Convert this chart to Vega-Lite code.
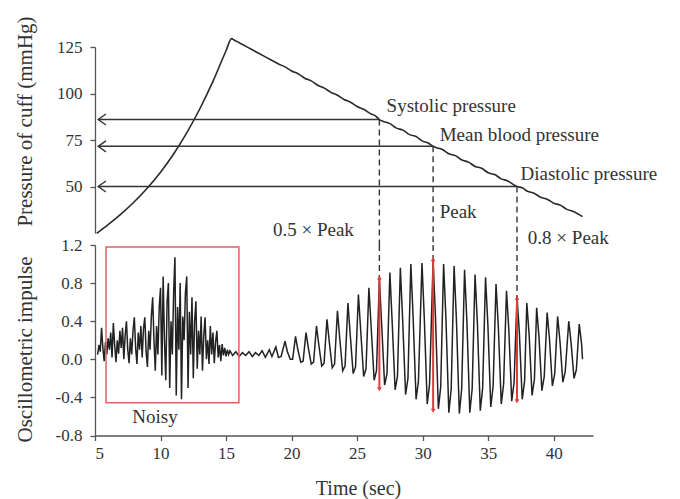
{
  "$schema": "https://vega.github.io/schema/vega-lite/v6.json",
  "background": "white",
  "padding": {"left": 14, "top": 15, "right": 5, "bottom": 2},
  "bounds": "flush",
  "spacing": 12,
  "config": {
    "font": "Liberation Serif",
    "view": {"stroke": null},
    "axis": {
      "labelFont": "Liberation Serif", "titleFont": "Liberation Serif",
      "labelFontSize": 17, "titleFontSize": 21, "titleFontWeight": "normal",
      "labelColor": "#333", "titleColor": "#333",
      "domainColor": "#555", "tickColor": "#555", "domainWidth": 1.3, "tickWidth": 1.3,
      "grid": false, "tickSize": 5, "labelPadding": 8, "labelOverlap": false, "labelBound": false
    }
  },
  "datasets": {
    "pressure": [
      {"t": 5.13, "v": 24.8}, {"t": 6, "v": 29.5}, {"t": 7, "v": 35.3}, {"t": 8, "v": 41.8},
      {"t": 9, "v": 49.2}, {"t": 10, "v": 57.7}, {"t": 11, "v": 67.5}, {"t": 12, "v": 78.8},
      {"t": 13, "v": 91.8}, {"t": 14, "v": 106.5}, {"t": 15, "v": 123.0}, {"t": 15.42, "v": 129.5},
      {"t": 15.6, "v": 128.8},
      {"t": 16, "v": 127.3}, {"t": 17, "v": 123.5}, {"t": 18, "v": 119.7}, {"t": 19, "v": 115.9},
      {"t": 19.5, "v": 114.3}, {"t": 20, "v": 112.1}, {"t": 20.5, "v": 110.6}, {"t": 21, "v": 108.2},
      {"t": 21.5, "v": 106.8}, {"t": 22, "v": 104.4}, {"t": 22.5, "v": 102.9}, {"t": 23, "v": 100.6},
      {"t": 23.5, "v": 99.1}, {"t": 24, "v": 96.8}, {"t": 24.5, "v": 95.3}, {"t": 25, "v": 93.0},
      {"t": 25.5, "v": 91.5}, {"t": 26, "v": 89.2}, {"t": 26.4, "v": 88.0}, {"t": 26.7, "v": 86.0},
      {"t": 27, "v": 85.0}, {"t": 27.5, "v": 83.8}, {"t": 28, "v": 81.4}, {"t": 28.5, "v": 80.3},
      {"t": 29, "v": 77.9}, {"t": 29.5, "v": 76.9}, {"t": 30, "v": 74.4}, {"t": 30.4, "v": 73.5},
      {"t": 30.8, "v": 71.6}, {"t": 31, "v": 71.0}, {"t": 31.5, "v": 69.9}, {"t": 32, "v": 67.6},
      {"t": 32.5, "v": 66.6}, {"t": 33, "v": 64.2}, {"t": 33.5, "v": 63.1}, {"t": 34, "v": 60.8},
      {"t": 34.5, "v": 59.8}, {"t": 35, "v": 57.4}, {"t": 35.5, "v": 56.4}, {"t": 36, "v": 54.1},
      {"t": 36.5, "v": 53.0}, {"t": 37, "v": 50.7}, {"t": 37.2, "v": 50.0}, {"t": 37.6, "v": 49.3},
      {"t": 38, "v": 47.4}, {"t": 38.5, "v": 46.4}, {"t": 39, "v": 44.2}, {"t": 39.5, "v": 43.2},
      {"t": 40, "v": 41.0}, {"t": 40.5, "v": 40.0}, {"t": 41, "v": 37.7}, {"t": 41.5, "v": 36.6},
      {"t": 42.2, "v": 33.8}
    ],
    "harrows": [
      {"t": 5.25, "t2": 26.7, "th": 5.54, "v": 86.0},
      {"t": 5.25, "t2": 30.8, "th": 5.54, "v": 71.6},
      {"t": 5.25, "t2": 37.2, "th": 5.54, "v": 50.0}
    ],
    "dtop": [
      {"t": 26.7, "v": 86.0, "v2": 18.4},
      {"t": 30.8, "v": 71.6, "v2": 18.4},
      {"t": 37.2, "v": 50.0, "v2": 18.4}
    ],
    "tlabels": [
      {"t": 27.25, "v": 90.0, "label": "Systolic pressure"},
      {"t": 31.3, "v": 74.3, "label": "Mean blood pressure"},
      {"t": 37.47, "v": 53.6, "label": "Diastolic pressure"},
      {"t": 31.3, "v": 33.3, "label": "Peak"},
      {"t": 18.58, "v": 23.5, "label": "0.5 × Peak"},
      {"t": 38.03, "v": 18.9, "label": "0.8 × Peak"}
    ],
    "signal": [
      {"t": 5.2, "v": 0.05}, {"t": 5.3, "v": 0.15}, {"t": 5.4, "v": 0.08}, {"t": 5.5, "v": 0.33},
      {"t": 5.6, "v": 0.12}, {"t": 5.7, "v": -0.02}, {"t": 5.8, "v": 0.18}, {"t": 5.9, "v": 0.05},
      {"t": 6.0, "v": 0.22}, {"t": 6.1, "v": 0.1}, {"t": 6.2, "v": 0.28}, {"t": 6.3, "v": 0.02},
      {"t": 6.4, "v": 0.38}, {"t": 6.5, "v": 0.15}, {"t": 6.6, "v": -0.03}, {"t": 6.7, "v": 0.2},
      {"t": 6.8, "v": 0.06}, {"t": 6.9, "v": 0.3}, {"t": 7.0, "v": 0.12}, {"t": 7.1, "v": 0.33},
      {"t": 7.2, "v": 0.0}, {"t": 7.3, "v": 0.25}, {"t": 7.4, "v": 0.4}, {"t": 7.5, "v": 0.1},
      {"t": 7.6, "v": -0.04}, {"t": 7.7, "v": 0.22}, {"t": 7.8, "v": 0.05}, {"t": 7.9, "v": 0.3},
      {"t": 8.0, "v": 0.44}, {"t": 8.1, "v": 0.12}, {"t": 8.2, "v": -0.05}, {"t": 8.3, "v": 0.28},
      {"t": 8.4, "v": 0.1}, {"t": 8.5, "v": 0.35}, {"t": 8.6, "v": 0.02}, {"t": 8.7, "v": 0.32},
      {"t": 8.8, "v": 0.44}, {"t": 8.9, "v": 0.08}, {"t": 9.0, "v": -0.08}, {"t": 9.1, "v": 0.3},
      {"t": 9.2, "v": 0.1}, {"t": 9.3, "v": 0.45}, {"t": 9.4, "v": 0.65}, {"t": 9.5, "v": 0.2},
      {"t": 9.6, "v": -0.12}, {"t": 9.7, "v": 0.35}, {"t": 9.8, "v": 0.05}, {"t": 9.9, "v": 0.55},
      {"t": 10.0, "v": 0.75}, {"t": 10.1, "v": -0.17}, {"t": 10.2, "v": 0.87}, {"t": 10.3, "v": 0.2},
      {"t": 10.4, "v": -0.22}, {"t": 10.5, "v": 0.6}, {"t": 10.6, "v": 0.8}, {"t": 10.7, "v": -0.3},
      {"t": 10.8, "v": 0.4}, {"t": 10.9, "v": 0.05}, {"t": 11.0, "v": 0.7}, {"t": 11.1, "v": 1.07},
      {"t": 11.2, "v": -0.38}, {"t": 11.3, "v": 0.55}, {"t": 11.4, "v": 0.1}, {"t": 11.5, "v": 0.8},
      {"t": 11.6, "v": -0.42}, {"t": 11.7, "v": 0.45}, {"t": 11.8, "v": 0.2}, {"t": 11.9, "v": 0.7},
      {"t": 12.0, "v": 0.87}, {"t": 12.1, "v": -0.3}, {"t": 12.2, "v": 0.5}, {"t": 12.3, "v": 0.05},
      {"t": 12.4, "v": 0.65}, {"t": 12.5, "v": -0.2}, {"t": 12.6, "v": 0.4}, {"t": 12.7, "v": 0.61},
      {"t": 12.8, "v": -0.1}, {"t": 12.9, "v": 0.3}, {"t": 13.0, "v": 0.05}, {"t": 13.1, "v": 0.45},
      {"t": 13.2, "v": -0.12}, {"t": 13.3, "v": 0.25}, {"t": 13.4, "v": 0.44}, {"t": 13.5, "v": 0.0},
      {"t": 13.6, "v": 0.2}, {"t": 13.7, "v": -0.05}, {"t": 13.8, "v": 0.35}, {"t": 13.9, "v": 0.05},
      {"t": 14.0, "v": 0.28}, {"t": 14.1, "v": -0.04}, {"t": 14.2, "v": 0.18}, {"t": 14.3, "v": 0.3},
      {"t": 14.4, "v": 0.02}, {"t": 14.5, "v": 0.15}, {"t": 14.6, "v": -0.02}, {"t": 14.7, "v": 0.16},
      {"t": 14.8, "v": 0.04}, {"t": 14.9, "v": 0.12}, {"t": 15.0, "v": 0.03}, {"t": 15.1, "v": 0.1},
      {"t": 15.2, "v": 0.05}, {"t": 15.3, "v": 0.09}, {"t": 15.5, "v": 0.04}, {"t": 15.75, "v": 0.08},
      {"t": 16.0, "v": 0.03}, {"t": 16.25, "v": 0.07}, {"t": 16.5, "v": 0.04}, {"t": 16.75, "v": 0.08},
      {"t": 17.0, "v": 0.03}, {"t": 17.25, "v": 0.07}, {"t": 17.5, "v": 0.04}, {"t": 17.75, "v": 0.09},
      {"t": 18.0, "v": 0.02}, {"t": 18.3, "v": 0.1}, {"t": 18.5, "v": 0.03}, {"t": 18.8, "v": 0.13},
      {"t": 19.0, "v": 0.02}, {"t": 19.2, "v": 0.03},
      {"t": 19.5, "v": 0.19}, {"t": 19.68, "v": 0.08}, {"t": 19.9, "v": 0.0}, {"t": 20.08, "v": 0.0},
      {"t": 20.3, "v": 0.24}, {"t": 20.48, "v": 0.10}, {"t": 20.7, "v": -0.03}, {"t": 20.88, "v": -0.02},
      {"t": 21.1, "v": 0.28}, {"t": 21.28, "v": 0.12}, {"t": 21.5, "v": -0.05}, {"t": 21.68, "v": -0.03},
      {"t": 21.9, "v": 0.35}, {"t": 22.08, "v": 0.15}, {"t": 22.3, "v": -0.07}, {"t": 22.48, "v": -0.04},
      {"t": 22.7, "v": 0.42}, {"t": 22.88, "v": 0.18}, {"t": 23.1, "v": -0.09}, {"t": 23.28, "v": -0.05},
      {"t": 23.5, "v": 0.51}, {"t": 23.68, "v": 0.21}, {"t": 23.9, "v": -0.12}, {"t": 24.08, "v": -0.07},
      {"t": 24.3, "v": 0.59}, {"t": 24.48, "v": 0.25}, {"t": 24.7, "v": -0.15}, {"t": 24.88, "v": -0.08},
      {"t": 25.1, "v": 0.68}, {"t": 25.28, "v": 0.29}, {"t": 25.5, "v": -0.18}, {"t": 25.68, "v": -0.10},
      {"t": 25.9, "v": 0.75}, {"t": 26.08, "v": 0.32}, {"t": 26.3, "v": -0.22}, {"t": 26.48, "v": -0.12},
      {"t": 26.7, "v": 0.84}, {"t": 26.88, "v": 0.35}, {"t": 27.1, "v": -0.27}, {"t": 27.28, "v": -0.15},
      {"t": 27.5, "v": 0.91}, {"t": 27.68, "v": 0.38}, {"t": 27.9, "v": -0.32}, {"t": 28.08, "v": -0.18},
      {"t": 28.3, "v": 0.96}, {"t": 28.48, "v": 0.40}, {"t": 28.7, "v": -0.37}, {"t": 28.88, "v": -0.20},
      {"t": 29.1, "v": 1.0}, {"t": 29.28, "v": 0.42}, {"t": 29.5, "v": -0.42}, {"t": 29.68, "v": -0.23},
      {"t": 29.95, "v": 1.01}, {"t": 30.13, "v": 0.42}, {"t": 30.35, "v": -0.47}, {"t": 30.53, "v": -0.26},
      {"t": 30.8, "v": 1.04}, {"t": 30.98, "v": 0.44}, {"t": 31.2, "v": -0.52}, {"t": 31.38, "v": -0.29},
      {"t": 31.6, "v": 1.0}, {"t": 31.78, "v": 0.42}, {"t": 32.0, "v": -0.56}, {"t": 32.18, "v": -0.31},
      {"t": 32.4, "v": 0.98}, {"t": 32.58, "v": 0.41}, {"t": 32.8, "v": -0.57}, {"t": 32.98, "v": -0.31},
      {"t": 33.2, "v": 0.94}, {"t": 33.38, "v": 0.39}, {"t": 33.6, "v": -0.56}, {"t": 33.78, "v": -0.31},
      {"t": 34.0, "v": 0.89}, {"t": 34.18, "v": 0.37}, {"t": 34.4, "v": -0.54}, {"t": 34.58, "v": -0.30},
      {"t": 34.8, "v": 0.86}, {"t": 34.98, "v": 0.36}, {"t": 35.2, "v": -0.50}, {"t": 35.38, "v": -0.28},
      {"t": 35.6, "v": 0.79}, {"t": 35.78, "v": 0.33}, {"t": 36.0, "v": -0.47}, {"t": 36.18, "v": -0.26},
      {"t": 36.4, "v": 0.72}, {"t": 36.58, "v": 0.30}, {"t": 36.8, "v": -0.44}, {"t": 36.98, "v": -0.24},
      {"t": 37.2, "v": 0.66}, {"t": 37.38, "v": 0.28}, {"t": 37.6, "v": -0.42}, {"t": 37.78, "v": -0.23},
      {"t": 37.95, "v": 0.59}, {"t": 38.13, "v": 0.25}, {"t": 38.35, "v": -0.38}, {"t": 38.53, "v": -0.21},
      {"t": 38.7, "v": 0.54}, {"t": 38.88, "v": 0.23}, {"t": 39.1, "v": -0.33}, {"t": 39.28, "v": -0.18},
      {"t": 39.5, "v": 0.49}, {"t": 39.68, "v": 0.21}, {"t": 39.9, "v": -0.28}, {"t": 40.08, "v": -0.15},
      {"t": 40.3, "v": 0.45}, {"t": 40.48, "v": 0.19}, {"t": 40.7, "v": -0.24}, {"t": 40.88, "v": -0.13},
      {"t": 41.15, "v": 0.40}, {"t": 41.33, "v": 0.17}, {"t": 41.55, "v": -0.20}, {"t": 41.73, "v": -0.11},
      {"t": 41.95, "v": 0.37}, {"t": 42.13, "v": 0.16}, {"t": 42.2, "v": 0.0}
    ],
    "dbot": [
      {"t": 26.7, "v": 1.2, "v2": 0.857},
      {"t": 30.8, "v": 1.2, "v2": 1.05},
      {"t": 37.2, "v": 1.2, "v2": 0.647}
    ],
    "red": [
      {"t": 26.7, "v": 0.857, "v2": -0.315},
      {"t": 30.8, "v": 1.05, "v2": -0.54},
      {"t": 37.2, "v": 0.647, "v2": -0.44}
    ],
    "tips": [
      {"t": 26.7, "v": 0.857, "s": "up"}, {"t": 26.7, "v": -0.315, "s": "down"},
      {"t": 30.8, "v": 1.05, "s": "up"}, {"t": 30.8, "v": -0.54, "s": "down"},
      {"t": 37.2, "v": 0.647, "s": "up"}, {"t": 37.2, "v": -0.44, "s": "down"}
    ],
    "box": [{"t": 5.84, "t2": 15.98, "v": 1.18, "v2": -0.456}],
    "blabels": [{"t": 9.58, "v": -0.606, "label": "Noisy"}]
  },
  "vconcat": [
    {
      "width": 498,
      "height": 186,
      "layer": [
        {
          "data": {"name": "pressure"},
          "mark": {"type": "line", "color": "#2a2a2a", "strokeWidth": 1.6, "interpolate": "monotone"},
          "encoding": {
            "x": {"field": "t", "type": "quantitative", "scale": {"domain": [5, 43], "nice": false, "zero": false}, "axis": null},
            "y": {"field": "v", "type": "quantitative", "scale": {"domain": [25, 125], "nice": false, "zero": false},
                  "axis": {"values": [50, 75, 100, 125], "tickCount": 10, "labelOverlap": false, "title": "Pressure of cuff (mmHg)", "titleX": -60, "titleY": 74, "titleAngle": 270, "titleBaseline": "bottom", "titleAlign": "center"}}
          }
        },
        {
          "data": {"name": "harrows"},
          "mark": {"type": "rule", "color": "#333", "strokeWidth": 1.4},
          "encoding": {
            "x": {"field": "t", "type": "quantitative"},
            "x2": {"field": "t2"},
            "y": {"field": "v", "type": "quantitative"}
          }
        },
        {
          "data": {"name": "harrows"},
          "mark": {"type": "point", "shape": "M 0.7 -1 L -0.7 0 L 0.7 1", "filled": false, "color": "#333", "strokeWidth": 1.4, "size": 121, "opacity": 1},
          "encoding": {
            "x": {"field": "th", "type": "quantitative"},
            "y": {"field": "v", "type": "quantitative"}
          }
        },
        {
          "data": {"name": "dtop"},
          "mark": {"type": "rule", "color": "#333", "strokeWidth": 1.4, "strokeDash": [6, 4]},
          "encoding": {
            "x": {"field": "t", "type": "quantitative"},
            "y": {"field": "v", "type": "quantitative"},
            "y2": {"field": "v2"}
          }
        },
        {
          "data": {"name": "tlabels"},
          "mark": {"type": "text", "align": "left", "baseline": "alphabetic", "fontSize": 19, "font": "Liberation Serif", "color": "#333"},
          "encoding": {
            "x": {"field": "t", "type": "quantitative"},
            "y": {"field": "v", "type": "quantitative"},
            "text": {"field": "label"}
          }
        }
      ]
    },
    {
      "width": 498,
      "height": 190.5,
      "layer": [
        {
          "data": {"name": "signal"},
          "mark": {"type": "line", "color": "#222", "strokeWidth": 1.5},
          "encoding": {
            "x": {"field": "t", "type": "quantitative", "scale": {"domain": [5, 43], "nice": false, "zero": false},
                  "axis": {"values": [5, 10, 15, 20, 25, 30, 35, 40], "tickCount": 20, "labelOverlap": false, "title": "Time (sec)", "titleFontSize": 20, "titleX": 263, "titleY": 59, "titleBaseline": "alphabetic", "labelPadding": 5}},
            "y": {"field": "v", "type": "quantitative", "scale": {"domain": [-0.8, 1.2], "nice": false, "zero": false},
                  "axis": {"values": [-0.8, -0.4, 0, 0.4, 0.8, 1.2], "tickCount": 12, "labelExpr": "replace(format(datum.value, '.1f'), '−', '-')", "labelOverlap": false, "title": "Oscillometric impulse", "titleX": -60, "titleY": 104, "titleAngle": 270, "titleBaseline": "bottom", "titleAlign": "center"}}
          }
        },
        {
          "data": {"name": "dbot"},
          "mark": {"type": "rule", "color": "#333", "strokeWidth": 1.4, "strokeDash": [6, 4]},
          "encoding": {
            "x": {"field": "t", "type": "quantitative"},
            "y": {"field": "v", "type": "quantitative"},
            "y2": {"field": "v2"}
          }
        },
        {
          "data": {"name": "box"},
          "mark": {"type": "rect", "fillOpacity": 0, "stroke": "#e06262", "strokeWidth": 1.5},
          "encoding": {
            "x": {"field": "t", "type": "quantitative"},
            "x2": {"field": "t2"},
            "y": {"field": "v", "type": "quantitative"},
            "y2": {"field": "v2"}
          }
        },
        {
          "data": {"name": "red"},
          "mark": {"type": "rule", "color": "#e23a3a", "strokeWidth": 2},
          "encoding": {
            "x": {"field": "t", "type": "quantitative"},
            "y": {"field": "v", "type": "quantitative"},
            "y2": {"field": "v2"}
          }
        },
        {
          "data": {"name": "tips"},
          "mark": {"type": "point", "filled": true, "color": "#e23a3a", "size": 22, "opacity": 1},
          "encoding": {
            "x": {"field": "t", "type": "quantitative"},
            "y": {"field": "v", "type": "quantitative"},
            "shape": {"field": "s", "type": "nominal", "scale": {"domain": ["up", "down"], "range": ["triangle-up", "triangle-down"]}, "legend": null}
          }
        },
        {
          "data": {"name": "blabels"},
          "mark": {"type": "text", "align": "center", "baseline": "middle", "fontSize": 19, "font": "Liberation Serif", "color": "#333"},
          "encoding": {
            "x": {"field": "t", "type": "quantitative"},
            "y": {"field": "v", "type": "quantitative"},
            "text": {"field": "label"}
          }
        }
      ]
    }
  ]
}
